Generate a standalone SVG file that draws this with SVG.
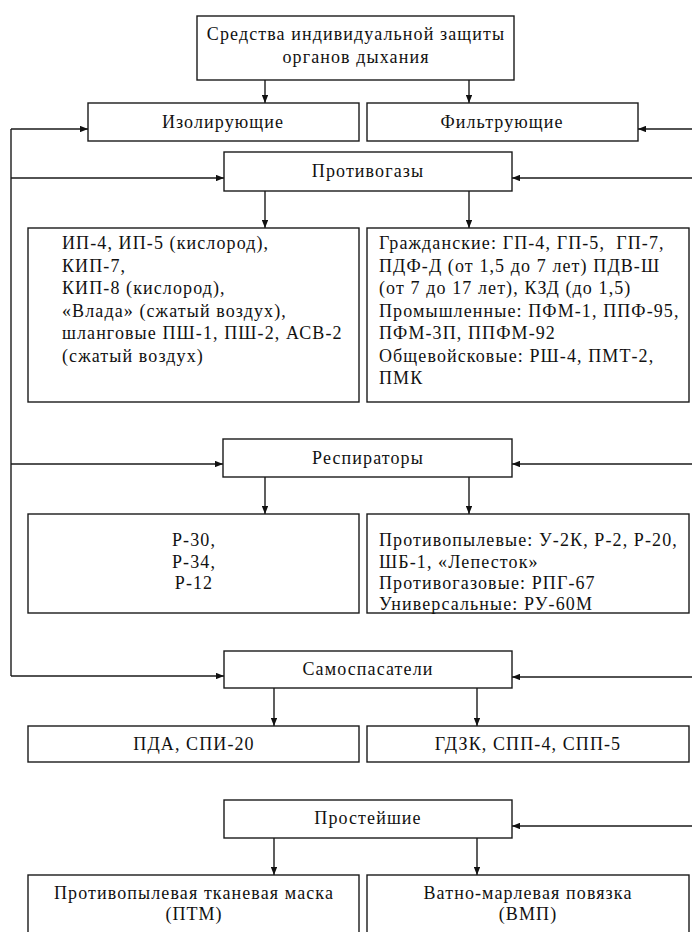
<svg xmlns="http://www.w3.org/2000/svg" width="692" height="932" viewBox="0 0 692 932">
  <defs>
    <marker id="ah" viewBox="0 0 10 8" refX="10" refY="4" markerWidth="8" markerHeight="6.4" markerUnits="userSpaceOnUse" orient="auto">
      <path d="M0,0 L10,4 L0,8 Z" fill="#111"/>
    </marker>
    <style>
      .box { fill: #fff; stroke: #1a1a1a; stroke-width: 1.4; }
      .edge { fill: none; stroke: #1a1a1a; stroke-width: 1.4; marker-end: url(#ah); }
      .line { fill: none; stroke: #1a1a1a; stroke-width: 1.4; }
      text { font-family: "Liberation Serif", "Times New Roman", serif; font-size: 18px; letter-spacing: 1.1px; fill: #111; }
      .c { text-anchor: middle; }
    </style>
  </defs>
  <rect width="692" height="932" fill="#fff"/>

  <!-- connectors -->
  <g id="connectors">
    <!-- left trunk -->
    <path class="line" d="M11,676 V129"/>
    <path class="edge" d="M11,129 H88"/>
    <path class="edge" d="M11,178 H224"/>
    <path class="edge" d="M11,464 H223"/>
    <path class="edge" d="M11,676 H224"/>
    <!-- right side feeds -->
    <path class="edge" d="M692,129 H638"/>
    <path class="edge" d="M692,178 H512"/>
    <path class="edge" d="M692,464 H512"/>
    <path class="edge" d="M692,677 H512"/>
    <path class="edge" d="M692,826 H512"/>
    <!-- downward arrows -->
    <path class="edge" d="M265,80 V103"/>
    <path class="edge" d="M469,80 V103"/>
    <path class="edge" d="M265,191 V228"/>
    <path class="edge" d="M469,191 V228"/>
    <path class="edge" d="M265,477 V514"/>
    <path class="edge" d="M469,477 V514"/>
    <path class="edge" d="M274,688 V726"/>
    <path class="edge" d="M477,688 V726"/>
    <path class="edge" d="M274,838 V875"/>
    <path class="edge" d="M477,838 V875"/>
  </g>

  <g id="root">
    <rect class="box" x="197" y="16" width="317" height="64"/>
    <text class="c" x="356" y="40">Средства индивидуальной защиты</text>
    <text class="c" x="356" y="63">органов дыхания</text>
  </g>

  <g id="isolating">
    <rect class="box" x="88" y="103" width="271" height="38"/>
    <text class="c" x="223" y="128">Изолирующие</text>
  </g>

  <g id="filtering">
    <rect class="box" x="367" y="103" width="271" height="38"/>
    <text class="c" x="502" y="128">Фильтрующие</text>
  </g>

  <g id="gasmasks">
    <rect class="box" x="224" y="152" width="288" height="39"/>
    <text class="c" x="368" y="177">Противогазы</text>
  </g>

  <g id="gasmasks-isolating">
    <rect class="box" x="28" y="228" width="331" height="174"/>
    <text x="62" y="249">ИП-4, ИП-5 (кислород),</text>
    <text x="62" y="271.5">КИП-7,</text>
    <text x="62" y="294">КИП-8 (кислород),</text>
    <text x="62" y="316.5">«Влада» (сжатый воздух),</text>
    <text x="62" y="339">шланговые ПШ-1, ПШ-2, АСВ-2</text>
    <text x="62" y="361.5">(сжатый воздух)</text>
  </g>

  <g id="gasmasks-filtering">
    <rect class="box" x="367" y="228" width="322" height="174"/>
    <text x="379" y="249" xml:space="preserve">Гражданские: ГП-4, ГП-5,  ГП-7,</text>
    <text x="379" y="271.5">ПДФ-Д (от 1,5 до 7 лет) ПДВ-Ш</text>
    <text x="379" y="294">(от 7 до 17 лет), КЗД (до 1,5)</text>
    <text x="379" y="316.5">Промышленные: ПФМ-1, ППФ-95,</text>
    <text x="379" y="339">ПФМ-3П, ППФМ-92</text>
    <text x="379" y="361.5">Общевойсковые: РШ-4, ПМТ-2,</text>
    <text x="379" y="384">ПМК</text>
  </g>

  <g id="respirators">
    <rect class="box" x="223" y="439" width="289" height="38"/>
    <text class="c" x="368" y="464">Респираторы</text>
  </g>

  <g id="respirators-isolating">
    <rect class="box" x="28" y="514" width="331" height="99"/>
    <text class="c" x="194" y="546">Р-30,</text>
    <text class="c" x="194" y="567.5">Р-34,</text>
    <text class="c" x="194" y="589">Р-12</text>
  </g>

  <g id="respirators-filtering">
    <rect class="box" x="367" y="514" width="322" height="99"/>
    <text x="379" y="546">Противопылевые: У-2К, Р-2, Р-20,</text>
    <text x="379" y="567.5">ШБ-1, «Лепесток»</text>
    <text x="379" y="589">Противогазовые: РПГ-67</text>
    <text x="379" y="610">Универсальные: РУ-60М</text>
  </g>

  <g id="self-rescuers">
    <rect class="box" x="224" y="651" width="288" height="37"/>
    <text class="c" x="368" y="675">Самоспасатели</text>
  </g>

  <g id="self-rescuers-isolating">
    <rect class="box" x="28" y="726" width="331" height="36"/>
    <text class="c" x="194" y="750">ПДА, СПИ-20</text>
  </g>

  <g id="self-rescuers-filtering">
    <rect class="box" x="367" y="726" width="322" height="36"/>
    <text class="c" x="528" y="750">ГДЗК, СПП-4, СПП-5</text>
  </g>

  <g id="simplest">
    <rect class="box" x="224" y="800" width="288" height="38"/>
    <text class="c" x="368" y="824">Простейшие</text>
  </g>

  <g id="cloth-mask">
    <rect class="box" x="28" y="875" width="331" height="70"/>
    <text class="c" x="194" y="899">Противопылевая тканевая маска</text>
    <text class="c" x="194" y="920">(ПТМ)</text>
  </g>

  <g id="gauze-bandage">
    <rect class="box" x="367" y="875" width="322" height="70"/>
    <text class="c" x="528" y="899">Ватно-марлевая повязка</text>
    <text class="c" x="528" y="920">(ВМП)</text>
  </g>
</svg>
